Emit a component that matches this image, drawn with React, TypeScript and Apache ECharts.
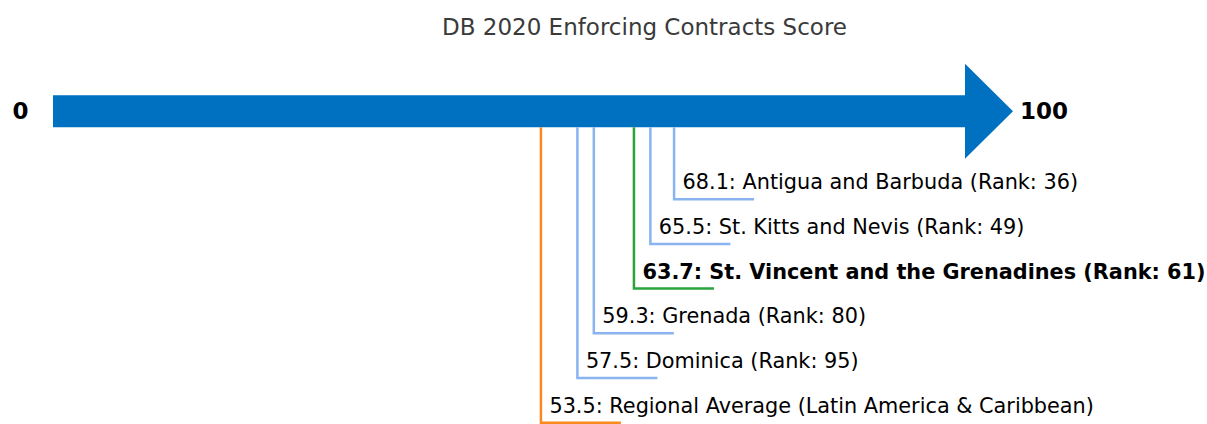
import React, { useEffect, useRef } from "react";
import * as echarts from "echarts";

const TITLE = "DB 2020 Enforcing Contracts Score";
const names = [
  "Regional Average (Latin America & Caribbean)",
  "Dominica",
  "Grenada",
  "St. Vincent and the Grenadines",
  "St. Kitts and Nevis",
  "Antigua and Barbuda",
];
const scores = [53.5, 57.5, 59.3, 63.7, 65.5, 68.1];
const ranks: (number | null)[] = [null, 95, 80, 61, 49, 36];
const kinds = ["regional", "peer", "peer", "focus", "peer", "peer"];
const levels = [0, 1, 2, 3, 4, 5];
const axisMin = 0;
const axisMax = 100;

const COLORS: Record<string, string> = {
  regional: "#f8891e",
  peer: "#8ab4f0",
  focus: "#2aa43c",
};
const ARROW_COLOR = "#0070c0";
const FONT = "DejaVu Sans";
const ARROW_LEVEL = 6.97;

export default function App() {
  const ref = useRef<HTMLDivElement>(null);
  useEffect(() => {
    if (!ref.current) return;
    const chart = echarts.init(ref.current, undefined, { renderer: "svg" });
    const markerData = scores.map((s, i) => [s, levels[i], i]);
    chart.setOption({
      animation: false,
      title: {
        text: TITLE,
        left: 639.5,
        textAlign: "center",
        top: 10,
        textStyle: {
          fontFamily: FONT,
          fontSize: 23,
          fontWeight: "normal",
          color: "#3a3a3a",
        },
      },
      grid: { left: 53, right: 242, top: 0, bottom: 0 },
      xAxis: { type: "value", min: axisMin, max: axisMax, show: false },
      yAxis: { type: "value", min: -0.029, max: 9.456, show: false },
      series: [
        {
          type: "custom",
          data: [[axisMin, axisMax]],
          renderItem: (params: any, api: any) => {
            const a = api.coord([api.value(0), ARROW_LEVEL]);
            const b = api.coord([api.value(1), ARROW_LEVEL]);
            const sh = 16;
            const hh = 47.5;
            const hl = 48;
            return {
              type: "group",
              children: [
                {
                  type: "polygon",
                  shape: {
                    points: [
                      [a[0], a[1] - sh],
                      [b[0], a[1] - sh],
                      [b[0], a[1] - hh],
                      [b[0] + hl, a[1]],
                      [b[0], a[1] + hh],
                      [b[0], a[1] + sh],
                      [a[0], a[1] + sh],
                    ],
                  },
                  style: { fill: ARROW_COLOR },
                },
                {
                  type: "text",
                  style: {
                    text: String(axisMin),
                    x: a[0] - 32.5,
                    y: a[1],
                    align: "center",
                    verticalAlign: "middle",
                    fontFamily: FONT,
                    fontWeight: "bold",
                    fontSize: 23,
                    fill: "#000",
                  },
                },
                {
                  type: "text",
                  style: {
                    text: String(axisMax),
                    x: b[0] + hl + 7,
                    y: a[1],
                    align: "left",
                    verticalAlign: "middle",
                    fontFamily: FONT,
                    fontWeight: "bold",
                    fontSize: 23,
                    fill: "#000",
                  },
                },
              ],
            };
          },
        },
        {
          type: "custom",
          data: markerData,
          renderItem: (params: any, api: any) => {
            const i = api.value(2);
            const p = api.coord([api.value(0), api.value(1)]);
            const top = api.coord([api.value(0), ARROW_LEVEL])[1] + 16;
            const kind = kinds[i];
            const color = COLORS[kind];
            const label =
              ranks[i] === null
                ? `${scores[i].toFixed(1)}: ${names[i]}`
                : `${scores[i].toFixed(1)}: ${names[i]} (Rank: ${ranks[i]})`;
            return {
              type: "group",
              children: [
                {
                  type: "polyline",
                  shape: {
                    points: [
                      [p[0], top],
                      [p[0], p[1]],
                      [p[0] + 80, p[1]],
                    ],
                  },
                  style: { stroke: color, lineWidth: 2.5, fill: "none" },
                },
                {
                  type: "text",
                  style: {
                    text: label,
                    x: p[0] + 8.5,
                    y: p[1] - 17,
                    align: "left",
                    verticalAlign: "middle",
                    fontFamily: FONT,
                    fontSize: 20.8,
                    fontWeight: kind === "focus" ? "bold" : "normal",
                    fill: "#000",
                  },
                },
              ],
            };
          },
        },
      ],
    });
    return () => chart.dispose();
  }, []);
  return (
    <div
      ref={ref}
      style={{ position: "fixed", left: 0, top: 0, width: 1207, height: 424, background: "#fff" }}
    />
  );
}
